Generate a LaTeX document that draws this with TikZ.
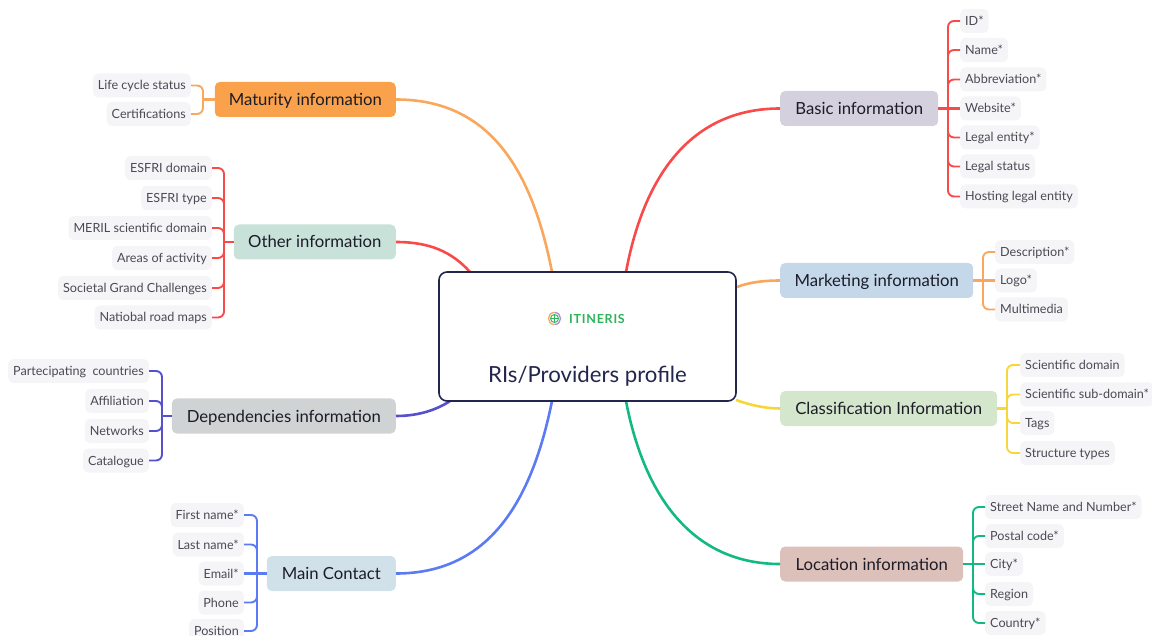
\documentclass[tikz,border=0pt]{standalone}
\usepackage{fontspec}
\setmainfont{Lato}
\definecolor{cred}{HTML}{F94A4A}
\definecolor{corange}{HTML}{F9A75C}
\definecolor{cyellow}{HTML}{F5D63D}
\definecolor{cgreen}{HTML}{12B981}
\definecolor{cblue}{HTML}{5B7BF5}
\definecolor{cindigo}{HTML}{5650CC}
\definecolor{leaffill}{HTML}{F5F5F7}
\definecolor{leaftext}{HTML}{4A4A55}
\definecolor{subtext}{HTML}{1C1C28}
\definecolor{mainedge}{HTML}{22264F}
\definecolor{logogreen}{HTML}{2DB35A}
\definecolor{logoviolet}{HTML}{A98FD0}
\definecolor{fmaturity}{HTML}{F9A24B}
\definecolor{fother}{HTML}{C8E2DA}
\definecolor{fdep}{HTML}{D0D3D4}
\definecolor{fcontact}{HTML}{D0E1E9}
\definecolor{fbasic}{HTML}{D4D0DE}
\definecolor{fmarket}{HTML}{C5D8EA}
\definecolor{fclass}{HTML}{D4E6CC}
\definecolor{flocation}{HTML}{DCC0BA}
\tikzset{
  x=1pt,y=-1pt,
  mainbox/.style={draw=mainedge,line width=1.6pt,fill=white,rounded corners=8pt,minimum width=297pt,minimum height=129pt,inner sep=0pt},
  subject/.style={fill=#1,rounded corners=5pt,minimum height=35pt,inner xsep=0pt,inner ysep=0pt,font=\fontsize{16.7}{18}\selectfont,text=subtext,text height=13pt,text depth=1pt},
  leaf/.style={fill=leaffill,rounded corners=5pt,minimum height=24pt,inner xsep=5pt,inner ysep=0pt,font=\fontsize{12.6}{14}\selectfont,text=leaftext,text height=9.5pt,text depth=.5pt},
  branch/.style={draw=#1,line width=2.6pt},
  twig/.style={draw=#1,line width=1.9pt,rounded corners=6pt},
  stem/.style={draw=#1,line width=2.6pt},
}
\newcommand{\lfR}[4]{\node[leaf,anchor=west] (#1) at (#3,#2) {#4};}
\newcommand{\lfL}[4]{\node[leaf,anchor=east] (#1) at (#3,#2) {#4};}
\newcommand{\twigR}[3]{\draw[twig=#1] (#2) |- (#3.west);}
\newcommand{\twigL}[3]{\draw[twig=#1] (#2) |- (#3.east);}
\begin{document}
\begin{tikzpicture}
\useasboundingbox (0,0) rectangle (1152,636);
\clip (0,0) rectangle (1152,636);
% subjects
\node[subject=fmaturity,anchor=east,minimum width=181pt] (maturity) at (396,99.5) {Maturity information};
\node[subject=fother,anchor=east,minimum width=162pt] (other) at (396,242) {Other information};
\node[subject=fdep,anchor=east,minimum width=224pt] (dep) at (396,416) {Dependencies information};
\node[subject=fcontact,anchor=east,minimum width=129pt] (contact) at (396,573.5) {Main Contact};
\node[subject=fbasic,anchor=west,minimum width=158pt] (basic) at (780,108.5) {Basic information};
\node[subject=fmarket,anchor=west,minimum width=193pt] (market) at (780,280.5) {Marketing information};
\node[subject=fclass,anchor=west,minimum width=217pt] (class) at (780,408.5) {Classification Information};
\node[subject=flocation,anchor=west,minimum width=183pt] (location) at (780,564) {Location information};
% coordinates on the centre box
\coordinate (mA) at (552,272);
\coordinate (mB) at (470,272);
\coordinate (mC) at (450,401);
\coordinate (mD) at (552,401);
\coordinate (mE) at (626,272);
\coordinate (mF) at (737,287);
\coordinate (mG) at (736,400);
\coordinate (mH) at (626,401);
% main branches
\draw[branch=corange] (maturity.east) .. controls (490,99.5) and (532,170) .. (mA);
\draw[branch=cred] (other.east) .. controls (430,242) and (452,252) .. (mB);
\draw[branch=cindigo] (dep.east) .. controls (420,416) and (438,409) .. (mC);
\draw[branch=cblue] (contact.east) .. controls (490,573.5) and (532,500) .. (mD);
\draw[branch=cred] (mE) .. controls (645,170) and (695,108.5) .. (basic.west);
\draw[branch=corange] (mF) .. controls (750,282) and (765,280.5) .. (market.west);
\draw[branch=cyellow] (mG) .. controls (750,405) and (765,408.5) .. (class.west);
\draw[branch=cgreen] (mH) .. controls (645,500) and (695,564) .. (location.west);
% centre
\node[mainbox] (main) at (587.5,336.5) {};
\node[font=\fontsize{22.2}{24}\selectfont,text=mainedge] (title) at (587.5,376) {RIs/Providers profile};
\node[font=\bfseries\fontsize{12.5}{14}\selectfont\addfontfeature{LetterSpace=6},text=logogreen,inner sep=0pt] (logo) at (597,318.5) {ITINERIS};
\draw[corange,line width=1.3pt] (554.5,312.5) .. controls (546.5,312.5) and (546.5,324.5) .. (554.5,324.5);
\draw[logoviolet,line width=1.3pt] (554.5,324.5) .. controls (562.5,324.5) and (562.5,312.5) .. (554.5,312.5);
\draw[logogreen,line width=.9pt] (554.5,318.5) circle (4) (550.5,318.5) -- (558.5,318.5) (554.5,314.5) -- (554.5,322.5);
% leaves: basic
\lfR{b1}{21}{960}{ID*}
\lfR{b2}{50}{960}{Name*}
\lfR{b3}{79.5}{960}{Abbreviation*}
\lfR{b4}{108.5}{960}{Website*}
\lfR{b5}{137.5}{960}{Legal entity*}
\lfR{b6}{166.5}{960}{Legal status}
\lfR{b7}{196.5}{960}{Hosting legal entity}
\coordinate (sb) at (948,108.5);
\draw[stem=cred] (basic.east) -- (b4.west);
\foreach \n in {b1,b2,b3,b5,b6,b7}{\twigR{cred}{sb}{\n}}
% leaves: marketing
\lfR{k1}{252}{995}{Description*}
\lfR{k2}{280.5}{995}{Logo*}
\lfR{k3}{309.5}{995}{Multimedia}
\coordinate (sk) at (983,280.5);
\draw[stem=corange] (market.east) -- (k2.west);
\foreach \n in {k1,k3}{\twigR{corange}{sk}{\n}}
% leaves: classification
\lfR{c1}{365}{1020}{Scientific domain}
\lfR{c2}{394.5}{1020}{Scientific sub-domain*}
\lfR{c3}{423}{1020}{Tags}
\lfR{c4}{453}{1020}{Structure types}
\coordinate (sc) at (1007,408.5);
\draw[stem=cyellow] (class.east) -- (sc);
\foreach \n in {c1,c2,c3,c4}{\twigR{cyellow}{sc}{\n}}
% leaves: location
\lfR{l1}{507}{985}{Street Name and Number*}
\lfR{l2}{536}{985}{Postal code*}
\lfR{l3}{564}{985}{City*}
\lfR{l4}{594}{985}{Region}
\lfR{l5}{623}{985}{Country*}
\coordinate (sl) at (973,564);
\draw[stem=cgreen] (location.east) -- (l3.west);
\foreach \n in {l1,l2,l4,l5}{\twigR{cgreen}{sl}{\n}}
% leaves: maturity
\lfL{m1}{85.5}{191}{Life cycle status}
\lfL{m2}{114}{191}{Certifications}
\coordinate (sm) at (203,99.5);
\draw[stem=corange] (maturity.west) -- (sm);
\foreach \n in {m1,m2}{\twigL{corange}{sm}{\n}}
% leaves: other
\lfL{o1}{168}{212}{ESFRI domain}
\lfL{o2}{198}{212}{ESFRI type}
\lfL{o3}{228}{212}{MERIL scientific domain}
\lfL{o4}{258}{212}{Areas of activity}
\lfL{o5}{288}{212}{Societal Grand Challenges}
\lfL{o6}{317.5}{212}{Natiobal road maps}
\coordinate (so) at (224,242);
\draw[stem=cred] (other.west) -- (so);
\foreach \n in {o1,o2,o3,o4,o5,o6}{\twigL{cred}{so}{\n}}
% leaves: dependencies
\lfL{d1}{371}{149}{Partecipating\ \ countries}
\lfL{d2}{401}{149}{Affiliation}
\lfL{d3}{431}{149}{Networks}
\lfL{d4}{460.5}{149}{Catalogue}
\coordinate (sd) at (162,416);
\draw[stem=cindigo] (dep.west) -- (sd);
\foreach \n in {d1,d2,d3,d4}{\twigL{cindigo}{sd}{\n}}
% leaves: main contact
\lfL{p1}{515}{244}{First name*}
\lfL{p2}{544.5}{244}{Last name*}
\lfL{p3}{573.5}{244}{Email*}
\lfL{p4}{602.5}{244}{Phone}
\lfL{p5}{631}{244}{Position}
\coordinate (sp) at (257,573.5);
\draw[stem=cblue] (contact.west) -- (p3.east);
\foreach \n in {p1,p2,p4,p5}{\twigL{cblue}{sp}{\n}}
\end{tikzpicture}
\end{document}
